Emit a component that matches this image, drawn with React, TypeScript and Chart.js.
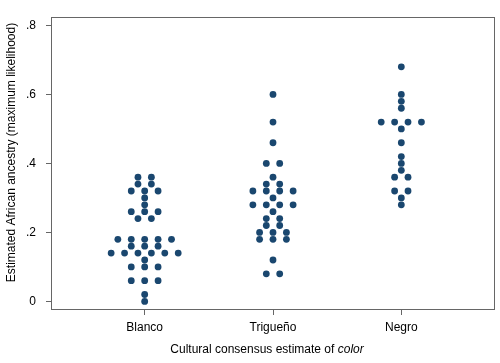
import React, { useEffect, useRef } from "react";
import { Chart, registerables } from "chart.js";

Chart.register(...registerables);

const categories = ["Blanco", "Trigueño", "Negro"];
const blancoValues = [
  0.36, 0.36, 0.34, 0.34, 0.32, 0.32, 0.32, 0.3, 0.28, 0.26, 0.26, 0.26, 0.24, 0.24,
  0.18, 0.18, 0.18, 0.18, 0.18, 0.16, 0.16, 0.16, 0.14, 0.14, 0.14, 0.14, 0.14, 0.14,
  0.12, 0.1, 0.1, 0.1, 0.06, 0.06, 0.06, 0.02, 0.0,
];
const triguenoValues = [
  0.6, 0.52, 0.46, 0.4, 0.4, 0.36, 0.34, 0.34, 0.32, 0.32, 0.32, 0.32, 0.3, 0.28, 0.28,
  0.28, 0.28, 0.26, 0.24, 0.24, 0.22, 0.22, 0.2, 0.2, 0.2, 0.18, 0.18, 0.18, 0.12, 0.08, 0.08,
];
const negroValues = [
  0.68, 0.6, 0.58, 0.56, 0.52, 0.52, 0.52, 0.52, 0.5, 0.46, 0.42, 0.4, 0.38, 0.36, 0.36,
  0.32, 0.32, 0.3, 0.28,
];
const yTicks = [0, 0.2, 0.4, 0.6, 0.8];
const yTickLabels = ["0", ".2", ".4", ".6", ".8"];

const groups = [blancoValues, triguenoValues, negroValues];
const DOT_SPACING = 0.1045;
const FONT = "'Liberation Sans', Arial, sans-serif";
const DOT_COLOR = "#1a476f";

function buildPoints() {
  const pts: { x: number; y: number }[] = [];
  groups.forEach((vals, gi) => {
    const counts = new Map<number, number>();
    vals.forEach((v) => counts.set(v, (counts.get(v) || 0) + 1));
    counts.forEach((n, v) => {
      for (let i = 0; i < n; i++) {
        pts.push({ x: gi + 1 + (i - (n - 1) / 2) * DOT_SPACING, y: v });
      }
    });
  });
  return pts;
}

const framePlugin = {
  id: "frameAndTitles",
  afterDraw(chart: any) {
    const { ctx, chartArea } = chart;
    ctx.save();
    ctx.strokeStyle = "#666666";
    ctx.lineWidth = 1;
    ctx.strokeRect(
      Math.round(chartArea.left) + 0.5,
      Math.round(chartArea.top) + 0.5,
      Math.round(chartArea.right - chartArea.left) - 1,
      Math.round(chartArea.bottom - chartArea.top) - 1
    );
    ctx.fillStyle = "#000";
    // y title
    ctx.font = `12px ${FONT}`;
    ctx.save();
    ctx.translate(12, 152.5);
    ctx.rotate(-Math.PI / 2);
    ctx.textAlign = "center";
    ctx.textBaseline = "middle";
    ctx.fillText("Estimated African ancestry (maximum likelihood)", 0, 0);
    ctx.restore();
    // x title with italic part
    const part1 = "Cultural consensus estimate of ";
    const part2 = "color";
    ctx.font = `12px ${FONT}`;
    const w1 = ctx.measureText(part1).width;
    ctx.font = `italic 12px ${FONT}`;
    const w2 = ctx.measureText(part2).width;
    const cx = 267;
    const startX = cx - (w1 + w2) / 2;
    ctx.textAlign = "left";
    ctx.textBaseline = "middle";
    ctx.font = `12px ${FONT}`;
    ctx.fillText(part1, startX, 350);
    ctx.font = `italic 12px ${FONT}`;
    ctx.fillText(part2, startX + w1, 350);
    ctx.restore();
  },
};

export default function App() {
  const ref = useRef<HTMLCanvasElement>(null);
  useEffect(() => {
    if (!ref.current) return;
    const chart = new Chart(ref.current, {
      type: "scatter",
      data: {
        datasets: [
          {
            data: buildPoints(),
            backgroundColor: DOT_COLOR,
            borderColor: DOT_COLOR,
            borderWidth: 0,
            pointRadius: 3.4,
          },
        ],
      },
      options: {
        animation: false,
        responsive: false,
        layout: { padding: { top: 4, right: 5, left: 0, bottom: 0 } },
        plugins: { legend: { display: false }, tooltip: { enabled: false } },
        scales: {
          x: {
            type: "linear",
            min: 0.27,
            max: 3.73,
            afterBuildTicks: (s: any) => {
              s.ticks = [1, 2, 3].map((v) => ({ value: v }));
            },
            afterFit: (s: any) => {
              s.height = 53;
            },
            ticks: {
              callback: (v: any) => categories[Math.round(Number(v)) - 1],
              color: "#000",
              font: { family: FONT, size: 12 },
              padding: 5,
              maxRotation: 0,
              autoSkip: false,
            },
            grid: { drawOnChartArea: false, tickLength: 5, color: "#666666" },
            border: { display: false },
          },
          y: {
            type: "linear",
            min: -0.025,
            max: 0.824,
            afterBuildTicks: (s: any) => {
              s.ticks = yTicks.map((v) => ({ value: v }));
            },
            afterFit: (s: any) => {
              s.width = 51;
            },
            ticks: {
              callback: (v: any) => {
                const idx = yTicks.findIndex((t) => Math.abs(t - Number(v)) < 1e-6);
                return idx >= 0 ? yTickLabels[idx] : "";
              },
              color: "#000",
              font: { family: FONT, size: 12 },
              padding: 10,
              autoSkip: false,
            },
            grid: { drawOnChartArea: false, tickLength: 5, color: "#666666" },
            border: { display: false },
          },
        },
      },
      plugins: [framePlugin],
    });
    return () => chart.destroy();
  }, []);
  return (
    <div style={{ position: "absolute", left: 0, top: 0, width: 500, height: 363, background: "#fff" }}>
      <canvas ref={ref} width={500} height={363} />
    </div>
  );
}
